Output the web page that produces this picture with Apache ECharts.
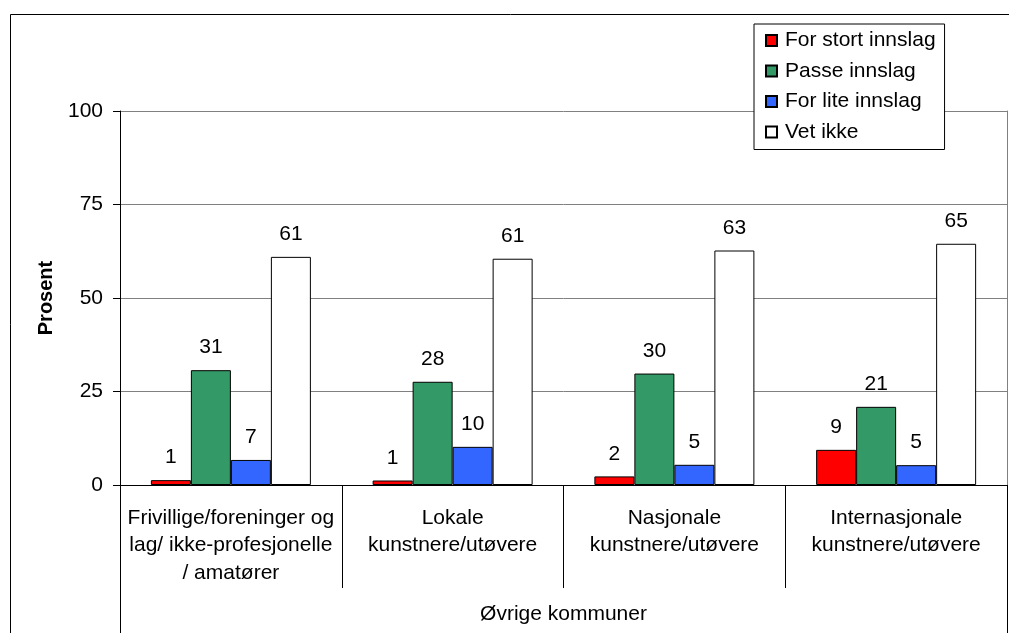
<!DOCTYPE html>
<html>
<head>
<meta charset="utf-8">
<script src="https://cdn.jsdelivr.net/npm/echarts@6/dist/echarts.min.js"></script>
<style>
html,body{margin:0;padding:0;background:#fff;}
#c{width:1009px;height:633px;}
</style>
</head>
<body>
<div id="c"></div>
<script>
const categories = [
  "Frivillige/foreninger og\nlag/ ikke-profesjonelle\n/ amatører",
  "Lokale\nkunstnere/utøvere",
  "Nasjonale\nkunstnere/utøvere",
  "Internasjonale\nkunstnere/utøvere"
];
const groupLabel = ["Øvrige kommuner"];
const seriesNames = ["For stort innslag", "Passe innslag", "For lite innslag", "Vet ikke"];
const forStort = [1.3, 1.2, 2.3, 9.4];
const passe = [30.7, 27.6, 29.8, 20.9];
const forLite = [6.7, 10.2, 5.4, 5.3];
const vetIkke = [61.0, 60.5, 62.7, 64.5];
const yTicks = [0, 25, 50, 75, 100];

const colors = ["#FF0000", "#339966", "#3366FF", "#FFFFFF"];
const FONT = "Liberation Sans, Arial, sans-serif";
const FS = 21;
const values = [forStort, passe, forLite, vetIkke];

const chart = echarts.init(document.getElementById('c'), null, {renderer: 'canvas'});
chart.setOption({
  backgroundColor: '#fff',
  animation: false,
  textStyle: {fontFamily: FONT, color: '#000'},
  graphic: [{
    type: 'rect', left: 8, top: 12, z: 100, silent: true,
    shape: {width: 1100, height: 700},
    style: {fill: 'none', stroke: '#000', lineWidth: 1}
  }],
  legend: {
    orient: 'vertical',
    left: 754, top: 24,
    padding: [6, 9, 7, 11],
    itemGap: 9.5,
    itemWidth: 11, itemHeight: 11,
    icon: 'rect',
    borderColor: '#000', borderWidth: 1,
    backgroundColor: '#fff',
    textStyle: {fontSize: FS, fontFamily: FONT, color: '#000', padding: [0, 0, 0, 3]},
    data: seriesNames
  },
  grid: {left: 120, right: 2, top: 111, bottom: 148, containLabel: false},
  xAxis: [{
    type: 'category',
    data: categories,
    position: 'bottom',
    axisLine: {show: true, lineStyle: {color: '#000', width: 1}},
    axisTick: {show: true, interval: 0, length: 103, lineStyle: {color: '#000'}},
    axisLabel: {interval: 0, fontSize: FS, lineHeight: 27.5, margin: 19, color: '#000', fontFamily: FONT, hideOverlap: false},
    splitLine: {show: false}
  }, {
    type: 'category',
    data: groupLabel,
    position: 'bottom',
    axisLine: {show: false},
    axisTick: {show: true, interval: 0, length: 160, lineStyle: {color: '#000'}},
    axisLabel: {interval: 0, fontSize: FS, lineHeight: 27, margin: 116, color: '#000', fontFamily: FONT}
  }],
  yAxis: [{
    type: 'value',
    min: 0, max: 100, interval: 25,
    name: 'Prosent',
    nameLocation: 'middle',
    nameRotate: 90,
    nameGap: 64,
    nameTextStyle: {fontSize: 20, fontWeight: 'bold', color: '#000', fontFamily: FONT},
    axisLine: {show: true, lineStyle: {color: '#000'}},
    axisTick: {show: true, inside: false, length: 7, lineStyle: {color: '#000'}},
    axisLabel: {fontSize: FS, margin: 17, color: '#000', fontFamily: FONT,
      formatter: v => yTicks.includes(v) ? String(v) : ''},
    splitLine: {show: true, lineStyle: {color: '#808080', width: 1}}
  }, {
    type: 'value',
    min: 0, max: 100, interval: 25,
    position: 'right',
    axisLine: {show: true, lineStyle: {color: '#808080'}},
    axisTick: {show: false},
    axisLabel: {show: false},
    splitLine: {show: false}
  }],
  series: seriesNames.map((n, i) => ({
    name: n,
    type: 'bar',
    xAxisIndex: 0,
    yAxisIndex: 0,
    data: values[i],
    barWidth: 40,
    barGap: '0%',
    itemStyle: {color: colors[i], borderColor: '#000', borderWidth: 1},
    label: {
      show: true, position: 'top', distance: 12,
      fontSize: FS, color: '#000', fontFamily: FONT,
      formatter: p => Math.round(p.value)
    }
  }))
});
</script>
</body>
</html>
